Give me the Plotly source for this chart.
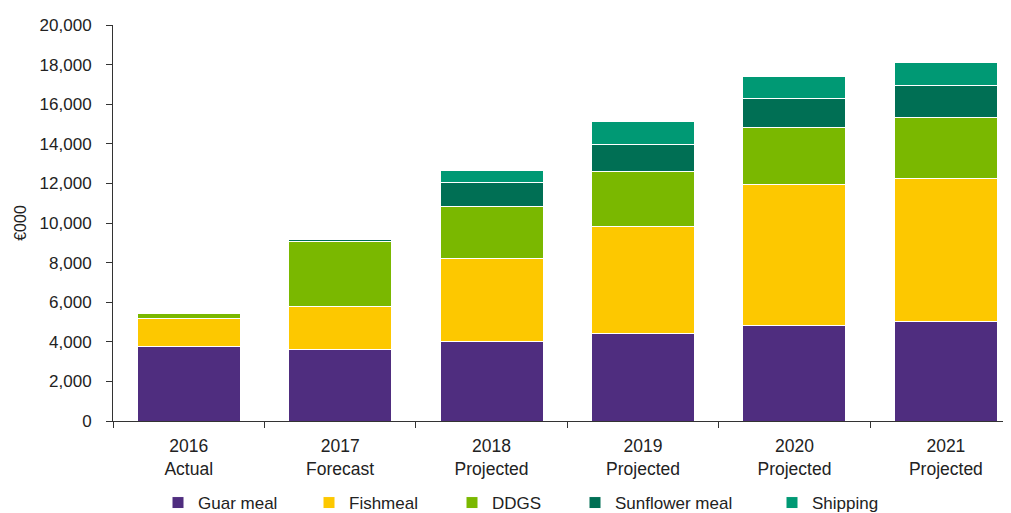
import plotly.graph_objects as go

categories = ["2016<br>Actual", "2017<br>Forecast", "2018<br>Projected",
              "2019<br>Projected", "2020<br>Projected", "2021<br>Projected"]
guar_meal = [3750, 3590, 4030, 4430, 4830, 5020]
fishmeal = [1450, 2200, 4200, 5400, 7100, 7240]
ddgs = [240, 3280, 2600, 2750, 2900, 3060]
sunflower_meal = [0, 90, 1220, 1360, 1450, 1610]
shipping = [0, 40, 600, 1210, 1110, 1190]

series = [
    ("Guar meal", guar_meal, "#4F2D7F"),
    ("Fishmeal", fishmeal, "#FDC800"),
    ("DDGS", ddgs, "#7AB800"),
    ("Sunflower meal", sunflower_meal, "#006F54"),
    ("Shipping", shipping, "#009974"),
]

# page body has an 8px default margin; the figure is sized to fit the window
W, H = 1003, 505
legend_px = [150, 301, 444, 567, 764]
legend_py = 495

FONT = "Liberation Sans, Arial, sans-serif"
TXT = "#222"

fig = go.Figure()
legends = {}
for i, (name, vals, color) in enumerate(series):
    lg = "legend" if i == 0 else f"legend{i+1}"
    fig.add_trace(go.Bar(
        name=name, x=categories, y=vals,
        marker=dict(color=color, line=dict(color="white", width=1)),
        legend=lg, showlegend=True,
    ))
    legends[lg] = dict(
        x=legend_px[i] / W, y=1 - legend_py / H, xref="container", yref="container",
        xanchor="left", yanchor="middle", orientation="h",
        font=dict(family=FONT, size=17, color=TXT),
        bgcolor="rgba(0,0,0,0)", itemwidth=30,
    )

fig.update_layout(
    barmode="stack",
    bargap=0.32,
    showlegend=True,
    width=W, height=H,
    margin=dict(l=105, r=0, t=17, b=92, autoexpand=False),
    plot_bgcolor="white", paper_bgcolor="white",
    font=dict(family=FONT, size=17, color=TXT),
    xaxis=dict(
        range=[-0.5, 5.43],
        showline=True, linecolor="#333", linewidth=1,
        ticks="outside", tickson="boundaries", ticklen=6, tickcolor="#333",
        ticklabelstandoff=9,
        tickfont=dict(family=FONT, size=17.5, color=TXT),
        showgrid=False,
    ),
    yaxis=dict(
        range=[0, 20000], dtick=2000, tickformat=",d",
        showline=True, linecolor="#333", linewidth=1,
        ticks="outside", ticklen=6, tickcolor="#333",
        ticklabelstandoff=11,
        tickfont=dict(family=FONT, size=17, color=TXT),
        showgrid=False, zeroline=False,
        title=dict(text="€000", font=dict(family=FONT, size=16, color=TXT), standoff=8),
    ),
    **legends,
)

fig.write_html("out.html")
